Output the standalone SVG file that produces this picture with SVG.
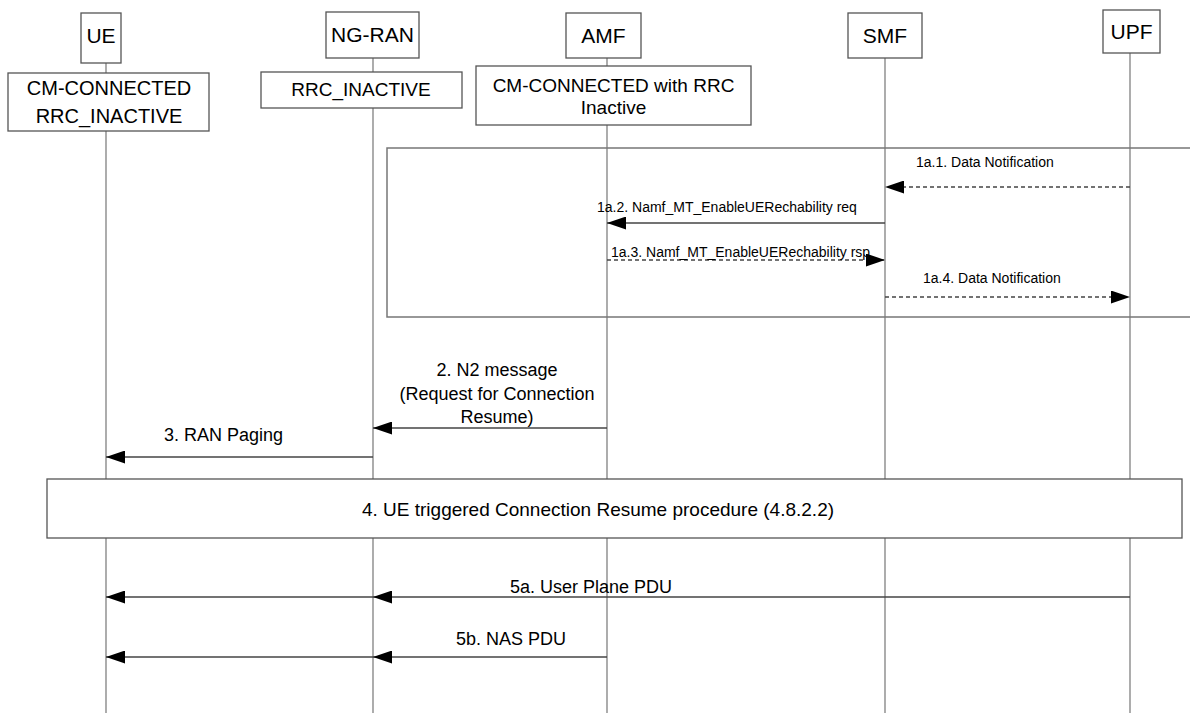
<svg xmlns="http://www.w3.org/2000/svg" width="1190" height="713" viewBox="0 0 1190 713">
<style>
  text { font-family: "Liberation Sans", Arial, sans-serif; fill: #000; }
  .box { fill: #fff; stroke: #555; stroke-width: 1.3; }
  .life { stroke: #808080; stroke-width: 1.3; fill: none; }
  .title { font-size: 21px; text-anchor: middle; }
  .state { font-size: 19px; text-anchor: middle; }
  .state20 { font-size: 20px; text-anchor: middle; }
  .small { font-size: 14px; }
  .lbl { font-size: 18px; }
  .msg { stroke: #444; stroke-width: 1.4; fill: none; marker-end: url(#ah); }
  .dash { stroke-dasharray: 4 3; }
  .frame { stroke: #777; stroke-width: 1.5; fill: none; }
</style>
<defs>
  <marker id="ah" markerUnits="userSpaceOnUse" markerWidth="19" markerHeight="13" refX="19" refY="6.5" orient="auto">
    <path d="M0,0 L19,6.5 L0,13 z" fill="#000"/>
  </marker>
</defs>
<rect width="1190" height="713" fill="#fff"/>

<g id="lifelines">
  <line class="life" x1="106" y1="63" x2="106" y2="713"/>
  <line class="life" x1="373" y1="58" x2="373" y2="713"/>
  <line class="life" x1="607" y1="58" x2="607" y2="713"/>
  <line class="life" x1="885" y1="58" x2="885" y2="713"/>
  <line class="life" x1="1130" y1="53" x2="1130" y2="713"/>
</g>

<g id="frame1a">
  <path class="frame" d="M1190,148 H387 V317 H1190"/>
</g>

<g id="node-ue">
  <rect class="box" x="81" y="13" width="40" height="50"/>
  <text class="title" x="101" y="43">UE</text>
  <rect class="box" x="8" y="73" width="201" height="58"/>
  <text class="state20" x="109" y="95">CM-CONNECTED</text>
  <text class="state20" x="109" y="123">RRC_INACTIVE</text>
</g>

<g id="node-ngran">
  <rect class="box" x="326" y="12" width="93" height="46"/>
  <text class="title" x="372.5" y="42">NG-RAN</text>
  <rect class="box" x="261" y="72" width="201" height="36"/>
  <text class="state" x="361" y="96">RRC_INACTIVE</text>
</g>

<g id="node-amf">
  <rect class="box" x="566" y="13" width="75" height="45"/>
  <text class="title" x="603.5" y="43">AMF</text>
  <rect class="box" x="476" y="66" width="275" height="59"/>
  <text class="state" x="613.5" y="92">CM-CONNECTED with RRC</text>
  <text class="state" x="613.5" y="114">Inactive</text>
</g>

<g id="node-smf">
  <rect class="box" x="848" y="13" width="74" height="45"/>
  <text class="title" x="885" y="43">SMF</text>
</g>

<g id="node-upf">
  <rect class="box" x="1103" y="10" width="57" height="43"/>
  <text class="title" x="1131.5" y="39">UPF</text>
</g>

<g id="node-step4">
  <rect class="box" x="47" y="479" width="1135" height="59"/>
  <text x="598" y="516" style="font-size:19px;text-anchor:middle">4. UE triggered Connection Resume procedure (4.8.2.2)</text>
</g>

<g id="connectors">
  <line class="msg dash" x1="1130" y1="187" x2="885" y2="187"/>
  <line class="msg" x1="885" y1="223" x2="607" y2="223"/>
  <line class="msg dash" x1="607" y1="260" x2="885" y2="260"/>
  <line class="msg dash" x1="885" y1="297" x2="1130" y2="297"/>
  <line class="msg" x1="607" y1="428" x2="373" y2="428"/>
  <line class="msg" x1="373" y1="457" x2="106" y2="457"/>
  <line class="msg" x1="1130" y1="597" x2="373" y2="597"/>
  <line class="msg" x1="373" y1="597" x2="106" y2="597"/>
  <line class="msg" x1="607" y1="657" x2="373" y2="657"/>
  <line class="msg" x1="373" y1="657" x2="106" y2="657"/>
</g>

<g id="labels">
  <text class="small" x="916" y="167">1a.1. Data Notification</text>
  <text class="small" x="597" y="212">1a.2. Namf_MT_EnableUERechability req</text>
  <text class="small" x="611" y="257">1a.3. Namf_MT_EnableUERechability rsp</text>
  <text class="small" x="923" y="283">1a.4. Data Notification</text>
  <text class="lbl" x="497" y="376" text-anchor="middle">2. N2 message</text>
  <text class="lbl" x="497" y="400" text-anchor="middle">(Request for Connection</text>
  <text class="lbl" x="497" y="423" text-anchor="middle">Resume)</text>
  <text class="lbl" x="164" y="441">3. RAN Paging</text>
  <text class="lbl" x="510" y="593">5a. User Plane PDU</text>
  <text class="lbl" x="456" y="645">5b. NAS PDU</text>
</g>
</svg>
